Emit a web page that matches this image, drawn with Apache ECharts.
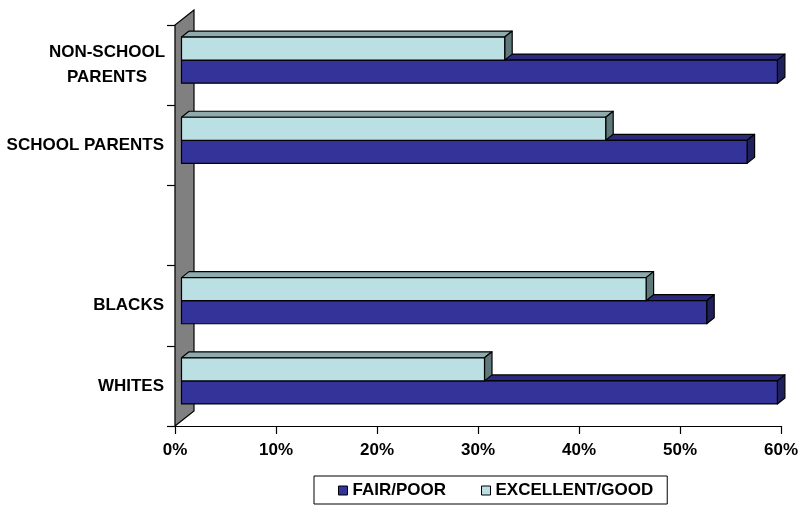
<!DOCTYPE html>
<html>
<head>
<meta charset="utf-8">
<script src="https://cdn.jsdelivr.net/npm/echarts@6/dist/echarts.min.js"></script>
<style>
html,body{margin:0;padding:0;background:#fff;}
#chart{width:802px;height:506px;}
</style>
</head>
<body>
<div id="chart"></div>
<script>
// ---- data ----
const categories = ['WHITES', 'BLACKS', '', 'SCHOOL PARENTS', 'NON-SCHOOL PARENTS'];
const fairPoor = [59, 52, null, 56, 59];
const excellentGood = [30, 46, null, 42, 32];
const seriesNames = ['FAIR/POOR', 'EXCELLENT/GOOD'];
const xTicks = { min: 0, max: 60, interval: 10 };

// ---- style ----
const FONT = "'Liberation Sans', Arial, sans-serif";
const DEPTH = { x: 19, y: -15 };        // full wall depth in px
const BAR_OFFSET = { x: 6.5, y: -5 };   // front face offset of bars
const BAR_DEPTH = { x: 7.5, y: -6 };    // bar thickness in depth
const palette = {
  fair: { front: '#333399', top: '#2b2b7e', side: '#20205c' },
  exc:  { front: '#bbe0e3', top: '#8eaaac', side: '#5f7879' }
};

function toPairs(arr) {
  const out = [];
  arr.forEach((v, i) => { if (v !== null && v !== undefined) out.push([v, i]); });
  return out;
}

function barRenderer(isUpper, colors) {
  return function (params, api) {
    const v = api.value(0), ci = api.value(1);
    const p0 = api.coord([0, ci]);
    const p1 = api.coord([v, ci]);
    const band = api.size([0, 1])[1];
    const h = band * 0.2875;
    const cy = p0[1] + BAR_OFFSET.y;
    const yTop = isUpper ? cy - h : cy;
    const yBot = isUpper ? cy : cy + h;
    const x0 = p0[0] + BAR_OFFSET.x, x1 = p1[0] + BAR_OFFSET.x;
    const dx = BAR_DEPTH.x, dy = BAR_DEPTH.y;
    const stroke = { stroke: '#000', lineWidth: 1.2, lineJoin: 'round' };
    return {
      type: 'group',
      children: [
        { type: 'polygon', shape: { points: [[x0, yTop], [x1, yTop], [x1 + dx, yTop + dy], [x0 + dx, yTop + dy]] },
          style: Object.assign({ fill: colors.top }, stroke) },
        { type: 'polygon', shape: { points: [[x1, yTop], [x1, yBot], [x1 + dx, yBot + dy], [x1 + dx, yTop + dy]] },
          style: Object.assign({ fill: colors.side }, stroke) },
        { type: 'rect', shape: { x: x0, y: yTop, width: x1 - x0, height: yBot - yTop },
          style: Object.assign({ fill: colors.front }, stroke) }
      ]
    };
  };
}

const chart = echarts.init(document.getElementById('chart'), null, { renderer: 'canvas' });
chart.setOption({
  backgroundColor: '#fff',
  animation: false,
  grid: { left: 175, right: 21, top: 25, bottom: 80, containLabel: false },
  legend: {
    data: seriesNames,
    left: 314, top: 476,
    padding: [6, 14, 5, 24],
    itemGap: 35,
    itemWidth: 9, itemHeight: 9,
    icon: 'rect',
    borderColor: '#000', borderWidth: 1,
    itemStyle: { borderColor: '#000', borderWidth: 1 },
    textStyle: { fontFamily: FONT, fontWeight: 'bold', fontSize: 17, color: '#000' }
  },
  xAxis: {
    type: 'value',
    min: xTicks.min, max: xTicks.max, interval: xTicks.interval,
    axisLine: { show: true, lineStyle: { color: '#000', width: 1.2 } },
    axisTick: { show: true, length: 8, lineStyle: { color: '#000', width: 1.2 } },
    splitLine: { show: false },
    axisLabel: { formatter: '{value}%', margin: 16, fontFamily: FONT, fontWeight: 'bold', fontSize: 17, color: '#000' }
  },
  yAxis: {
    type: 'category',
    data: categories,
    axisLine: { show: true, lineStyle: { color: '#000', width: 1.2 } },
    axisTick: { show: true, length: 8, lineStyle: { color: '#000', width: 1.2 } },
    axisLabel: {
      margin: 11,
      fontFamily: FONT, fontWeight: 'bold', fontSize: 17, color: '#000',
      formatter: function (val) {
        if (val === 'NON-SCHOOL PARENTS') return '{c|NON-SCHOOL}\n{c|PARENTS}';
        return val;
      },
      rich: {
        c: { width: 114, align: 'center', fontFamily: FONT, fontWeight: 'bold', fontSize: 17, color: '#000', lineHeight: 25 }
      }
    }
  },
  series: [
    {
      type: 'custom', name: 'wall', silent: true, z: 1,
      data: [[0, 0]],
      renderItem: function (params, api) {
        const cs = params.coordSys;
        const x = cs.x, y = cs.y, h = cs.height;
        return {
          type: 'polygon',
          shape: { points: [[x, y + h], [x, y], [x + DEPTH.x, y + DEPTH.y], [x + DEPTH.x, y + h + DEPTH.y]] },
          style: { fill: '#808080', stroke: '#000', lineWidth: 1.2 }
        };
      }
    },
    {
      type: 'custom', name: seriesNames[0], z: 2,
      itemStyle: { color: palette.fair.front, borderColor: '#000', borderWidth: 1 },
      data: toPairs(fairPoor),
      renderItem: barRenderer(false, palette.fair)
    },
    {
      type: 'custom', name: seriesNames[1], z: 3,
      itemStyle: { color: palette.exc.front, borderColor: '#000', borderWidth: 1 },
      data: toPairs(excellentGood),
      renderItem: barRenderer(true, palette.exc)
    }
  ]
});
</script>
</body>
</html>
